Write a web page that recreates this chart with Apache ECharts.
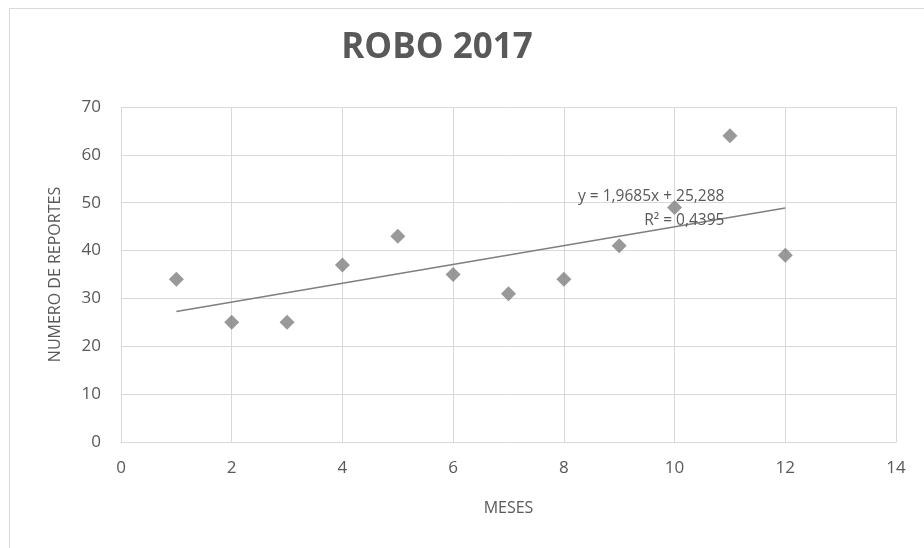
<!DOCTYPE html>
<html>
<head>
<meta charset="utf-8">
<script src="https://cdn.jsdelivr.net/npm/echarts@6/dist/echarts.min.js"></script>
<style>
  html, body { margin: 0; padding: 0; background: #fff; }
  #main { width: 924px; height: 548px; }
</style>
</head>
<body>
<div id="main"></div>
<script>
// meses y numero de reportes
const meses = [1, 2, 3, 4, 5, 6, 7, 8, 9, 10, 11, 12];
const reportes = [34, 25, 25, 37, 43, 35, 31, 34, 41, 49, 64, 39];
// linea de tendencia (Excel)
const pendiente = 1.9685;
const intercepto = 25.288;
const tendenciaX = [1, 12];
const ecuacion = "y = 1,9685x + 25,288\nR² = 0,4395";

const gris = "#595959";
const chart = echarts.init(document.getElementById("main"));
chart.setOption({
  animation: false,
  textStyle: { fontFamily: "Open Sans" },
  title: {
    text: "ROBO 2017",
    left: 432,
    textAlign: "center",
    top: 26,
    textStyle: { fontSize: 35, fontWeight: "bold", color: gris, fontFamily: "Open Sans" }
  },
  graphic: [{
    type: "rect",
    left: 7, top: 6,
    shape: { width: 940, height: 570 },
    style: { fill: "none", stroke: "#d9d9d9", lineWidth: 1 },
    silent: true
  }],
  grid: { left: 121, right: 28, top: 107, bottom: 106 },
  xAxis: {
    type: "value",
    min: 0, max: 14, interval: 2,
    name: "MESES",
    nameLocation: "middle",
    nameGap: 58,
    nameTextStyle: { color: gris, fontSize: 16 },
    axisLine: { lineStyle: { color: "#d9d9d9" } },
    axisTick: { show: false },
    axisLabel: { color: gris, fontSize: 17, margin: 18 },
    splitLine: { lineStyle: { color: "#d9d9d9" } }
  },
  yAxis: {
    type: "value",
    min: 0, max: 70, interval: 10,
    name: "NUMERO DE REPORTES",
    nameLocation: "middle",
    nameGap: 58,
    nameTextStyle: { color: gris, fontSize: 16 },
    axisLine: { show: false },
    axisTick: { show: false },
    axisLabel: { color: gris, fontSize: 17, margin: 20 },
    splitLine: { lineStyle: { color: "#d9d9d9" } }
  },
  series: [
    {
      type: "line",
      data: tendenciaX.map(x => [x, pendiente * x + intercepto]),
      symbol: "none",
      lineStyle: { color: "#7f7f7f", width: 1.5 },
      z: 3,
      markPoint: {
        symbol: "circle",
        symbolSize: 0,
        z: 5,
        data: [{ coord: [10.9, 43.7] }],
        label: {
          show: true,
          position: "inside",
          formatter: ecuacion,
          align: "right",
          verticalAlign: "bottom",
          color: gris,
          fontSize: 15.5,
          lineHeight: 24
        }
      }
    },
    {
      type: "scatter",
      data: meses.map((m, i) => [m, reportes[i]]),
      symbol: "diamond",
      symbolSize: 15,
      itemStyle: { color: "#7f7f7f" },
      z: 4
    }
  ]
});
</script>
</body>
</html>
